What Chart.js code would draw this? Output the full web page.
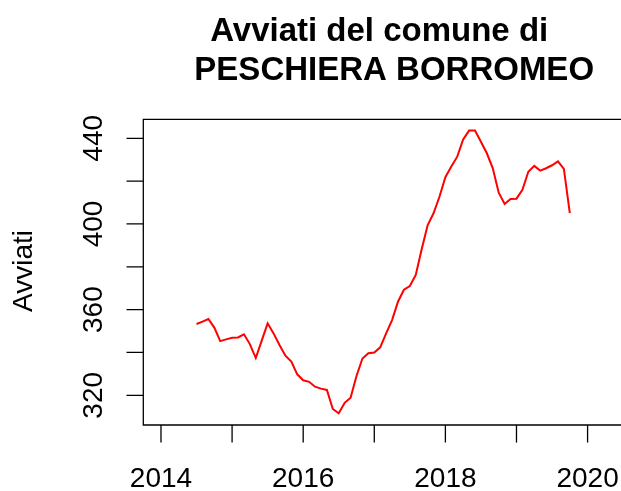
<!DOCTYPE html>
<html><head><meta charset="utf-8">
<script src="https://cdn.jsdelivr.net/npm/chart.js@4/dist/chart.umd.min.js"></script>
<style>html,body{margin:0;padding:0;background:#fff;overflow:hidden}#wrap{width:621px;height:491px;position:relative}</style>
</head><body><div id="wrap"><canvas id="c" width="621" height="491"></canvas></div>
<script>
const titleLines = ['Avviati del comune di', 'PESCHIERA BORROMEO'];
const yAxisTitle = 'Avviati';
const startYear = 2014;
const startMonth = 7;
const avviati = [
  353.3, 354.4, 355.6, 351.6, 345.3, 346.1, 346.9, 347.0, 348.5, 343.9,
  337.4, 345.5, 353.6, 348.9, 343.5, 338.5, 335.7, 329.8, 327.0, 326.3,
  324.0, 323.1, 322.5, 313.6, 311.6, 316.5, 318.9, 329.0, 337.2, 339.6,
  340.0, 342.4, 348.9, 355.1, 363.7, 369.3, 371.0, 376.2, 388.2, 399.4,
  405.0, 412.7, 421.8, 426.8, 431.4, 439.5, 443.6, 443.6, 438.4, 433.0,
  426.0, 414.6, 409.3, 411.7, 411.8, 415.9, 424.4, 427.1, 424.9, 426.0,
  427.4, 429.2, 425.7, 405.0
];
const xTickValues = [2014, 2015, 2016, 2017, 2018, 2019, 2020];
const xTickLabels = ['2014', '', '2016', '', '2018', '', '2020'];
const yTickValues = [320, 340, 360, 380, 400, 420, 440];
const yTickLabels = ['320', '', '360', '', '400', '', '440'];

const points = avviati.map((v, i) => ({ x: startYear + (startMonth - 1 + i) / 12, y: v }));

const FONT = '"Liberation Sans", Arial, Helvetica, sans-serif';

const decor = {
  id: 'decor',
  afterDraw(chart) {
    const ctx = chart.ctx;
    const a = chart.chartArea;
    const xs = chart.scales.x, ys = chart.scales.y;
    ctx.save();
    ctx.strokeStyle = '#000';
    ctx.lineWidth = 1.3;
    ctx.beginPath();
    ctx.moveTo(a.right + 5, a.top + 0.3);
    ctx.lineTo(a.left + 0.3, a.top + 0.3);
    ctx.lineTo(a.left + 0.3, a.bottom);
    ctx.lineTo(a.right + 5, a.bottom);
    ctx.stroke();
    ctx.beginPath();
    yTickValues.forEach(v => {
      const y = ys.getPixelForValue(v);
      ctx.moveTo(a.left - 16.5, y);
      ctx.lineTo(a.left + 0.3, y);
    });
    xTickValues.forEach(v => {
      const x = xs.getPixelForValue(v);
      ctx.moveTo(x, a.bottom);
      ctx.lineTo(x, a.bottom + 17.5);
    });
    ctx.stroke();
    ctx.fillStyle = '#000';
    ctx.font = '28px ' + FONT;
    ctx.textAlign = 'center';
    ctx.textBaseline = 'alphabetic';
    xTickValues.forEach((v, i) => {
      if (!xTickLabels[i]) return;
      ctx.fillText(xTickLabels[i], xs.getPixelForValue(v), a.bottom + 62);
    });
    yTickValues.forEach((v, i) => {
      if (!yTickLabels[i]) return;
      ctx.save();
      ctx.translate(101.7, ys.getPixelForValue(v));
      ctx.rotate(-Math.PI / 2);
      ctx.fillText(yTickLabels[i], 0, 0);
      ctx.restore();
    });
    ctx.save();
    ctx.translate(31.7, (a.top + a.bottom) / 2 - 1);
    ctx.rotate(-Math.PI / 2);
    ctx.fillText(yAxisTitle, 0, 0);
    ctx.restore();
    ctx.font = 'bold 33px ' + FONT;
    ctx.fillText(titleLines[0], 379.2, 40.7);
    ctx.fillText(titleLines[1], 394.2, 80);
    ctx.restore();
  }
};

new Chart(document.getElementById('c'), {
  type: 'line',
  data: {
    datasets: [{
      data: points,
      borderColor: '#ff0000',
      borderWidth: 2,
      pointRadius: 0,
      tension: 0,
      fill: false
    }]
  },
  options: {
    responsive: false,
    animation: false,
    devicePixelRatio: 1,
    layout: { padding: { left: 143, top: 119, right: 0, bottom: 66 } },
    scales: {
      x: { type: 'linear', min: 2013.747, max: 2020.47, display: false },
      y: { type: 'linear', min: 306.13, max: 449.0, display: false }
    },
    plugins: { legend: { display: false }, tooltip: { enabled: false }, title: { display: false } }
  },
  plugins: [decor]
});
</script>
</body></html>
